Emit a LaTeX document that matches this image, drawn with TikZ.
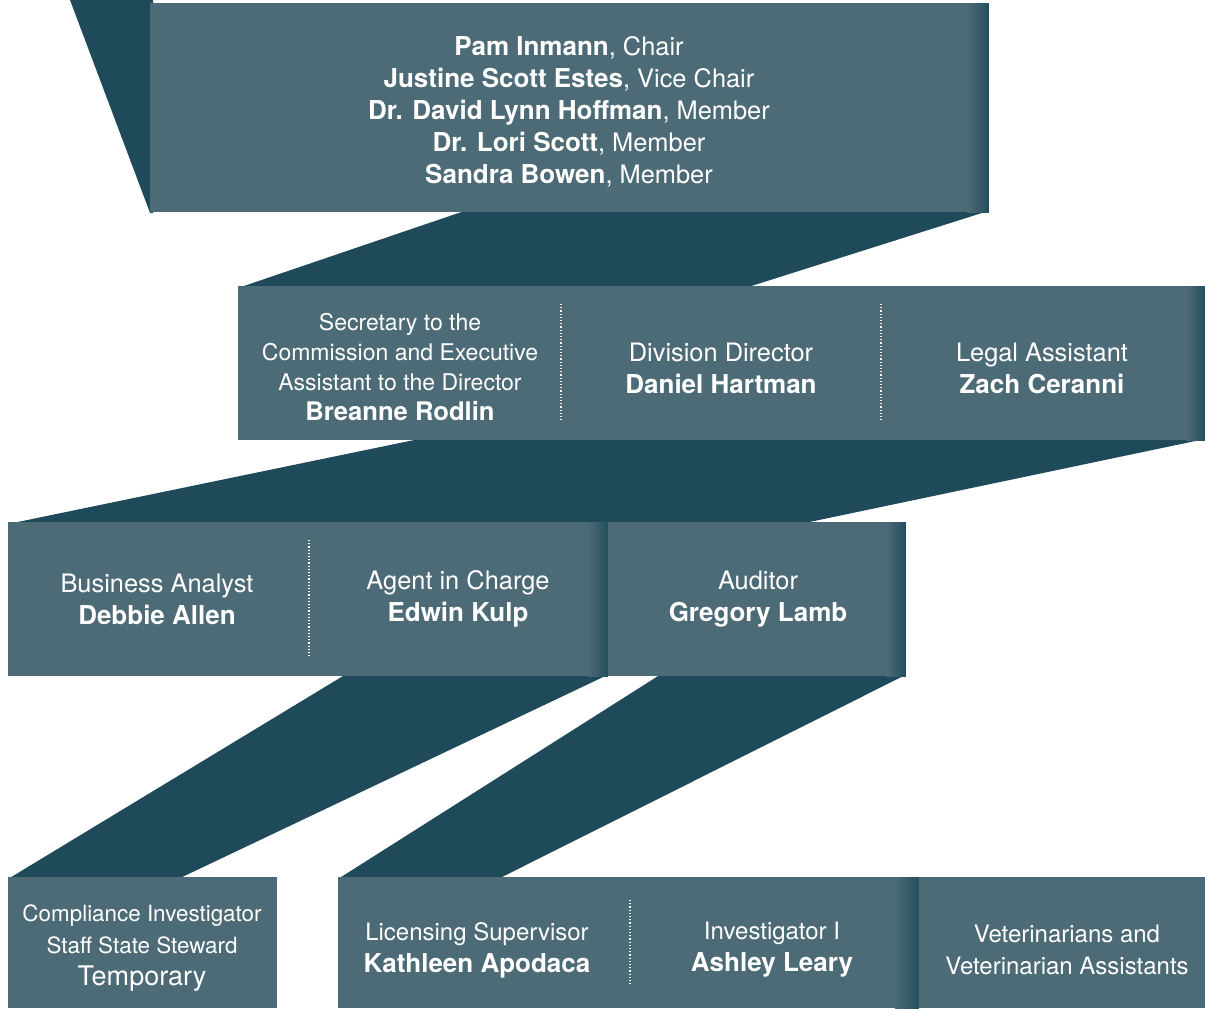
\documentclass[tikz,border=0pt]{standalone}
\usepackage{fontspec}
\setmainfont{TeX Gyre Heros}
\usetikzlibrary{backgrounds}
\definecolor{boxfill}{HTML}{4D6B76}
\definecolor{ribbon}{HTML}{1F4A5A}
\definecolor{edgeshade}{HTML}{234E5D}
\newcommand{\nm}[1]{{\fontsize{13}{16}\selectfont\bfseries #1}}
\tikzset{
  unit/.style={fill=boxfill, inner sep=0pt, anchor=north west},
  lbl/.style={text=white, align=center, inner sep=0pt, font=\fontsize{12.7}{16}\selectfont},
  small lbl/.style={lbl, font=\fontsize{12}{16}\selectfont},
  band/.style={fill=ribbon},
  sep/.style={white, densely dotted, line width=0.6pt},
  edge fade/.style={left color=boxfill, right color=edgeshade}
}
\begin{document}
\begin{tikzpicture}[x={(0.5pt,0)}, y={(0,-0.5pt)}]
  \useasboundingbox (0,0) rectangle (1205,1008);
  %% Boxes
  \node[unit, minimum width=419pt, minimum height=104.5pt] (board) at (150,3) {};
  \node[unit, minimum width=483.5pt, minimum height=77pt] (staff) at (238,286) {};
  \node[unit, minimum width=299.5pt, minimum height=77pt] (ops) at (8,522) {};
  \node[unit, minimum width=149pt, minimum height=77pt] (audit) at (607,522) {};
  \node[unit, minimum width=134.5pt, minimum height=65.5pt] (comp) at (8,877) {};
  \node[unit, minimum width=290pt, minimum height=65.5pt] (field) at (338,877) {};
  \node[unit, minimum width=143.5pt, minimum height=65.5pt] (vet) at (918,877) {};
  %% Ribbons, tucked under the boxes
  \begin{scope}[on background layer]
    \coordinate (topend) at (70,0);
    \coordinate (topcorner) at (153,0);
    \fill[band] (topend) -- (topcorner) -- (topcorner |- board.south) -- (board.south west) -- cycle;
    \fill[band] ([yshift=1pt]465,0 |- board.south) -- ([yshift=1pt]board.south east) -- ([yshift=-1pt]745,0 |- staff.north)
      -- ([yshift=-1pt]staff.north west) -- cycle;
    \fill[band] ([yshift=1pt]420,0 |- staff.south) -- ([yshift=1pt]staff.south east) -- ([yshift=-1pt]800,0 |- ops.north)
      -- ([yshift=-1pt]ops.north west) -- cycle;
    \fill[band] ([yshift=1pt]345,0 |- ops.south) -- ([yshift=1pt]ops.south east) -- ([yshift=-1pt]178,0 |- comp.north)
      -- ([yshift=-1pt]comp.north west) -- cycle;
    \fill[band] ([yshift=1pt]660,0 |- audit.south) -- ([yshift=1pt]audit.south east) -- ([yshift=-1pt]498,0 |- field.north)
      -- ([yshift=-1pt]field.north west) -- cycle;
  \end{scope}
  %% Shaded right edges
  \shade[edge fade] ([xshift=-11pt]board.north east) rectangle (board.south east);
  \shade[edge fade] ([xshift=-10pt]staff.north east) rectangle (staff.south east);
  \shade[edge fade] ([xshift=-10pt]ops.north east) rectangle (ops.south east);
  \shade[edge fade] ([xshift=-10pt]audit.north east) rectangle (audit.south east);
  \shade[edge fade] ([xshift=-12pt]field.north east) rectangle (field.south east);
  %% Dividers
  \draw[sep] (561,304) -- (561,420);
  \draw[sep] (881,304) -- (881,420);
  \draw[sep] (309,540) -- (309,656);
  \draw[sep] (630,900) -- (630,985);
  %% Labels
  \node[lbl] (boardtxt) at (569,112) {\nm{Pam Inmann}, Chair\\
    \nm{Justine Scott Estes}, Vice Chair\\
    \nm{Dr. David Lynn Hoffman}, Member\\
    \nm{Dr. Lori Scott}, Member\\
    \nm{Sandra Bowen}, Member};
  \node[lbl, font=\fontsize{11.5}{15}\selectfont] (sectxt) at (400,367) {Secretary to the\\
    Commission and Executive\\Assistant to the Director\\
    {\fontsize{12.8}{15}\selectfont\bfseries Breanne Rodlin}};
  \node[lbl] (dirtxt) at (721,368) {Division Director\\\nm{Daniel Hartman}};
  \node[lbl] (legaltxt) at (1042,368) {Legal Assistant\\\nm{Zach Ceranni}};
  \node[lbl] (analysttxt) at (157,599) {Business Analyst\\\nm{Debbie Allen}};
  \node[lbl] (agenttxt) at (458,599) {Agent in Charge\\\nm{Edwin Kulp}};
  \node[lbl] (audittxt) at (758,599) {Auditor\\\nm{Gregory Lamb}};
  \node[lbl, font=\fontsize{11.2}{16}\selectfont] (comptxt) at (142,948) {Compliance Investigator\\
    Staff State Steward\\{\fontsize{13.5}{16}\selectfont Temporary}};
  \node[small lbl] (lictxt) at (477,950) {Licensing Supervisor\\\nm{Kathleen Apodaca}};
  \node[small lbl] (invtxt) at (772,950) {Investigator I\\\nm{Ashley Leary}};
  \node[small lbl] (vettxt) at (1067,950) {Veterinarians and\\Veterinarian Assistants};
\end{tikzpicture}
\end{document}
